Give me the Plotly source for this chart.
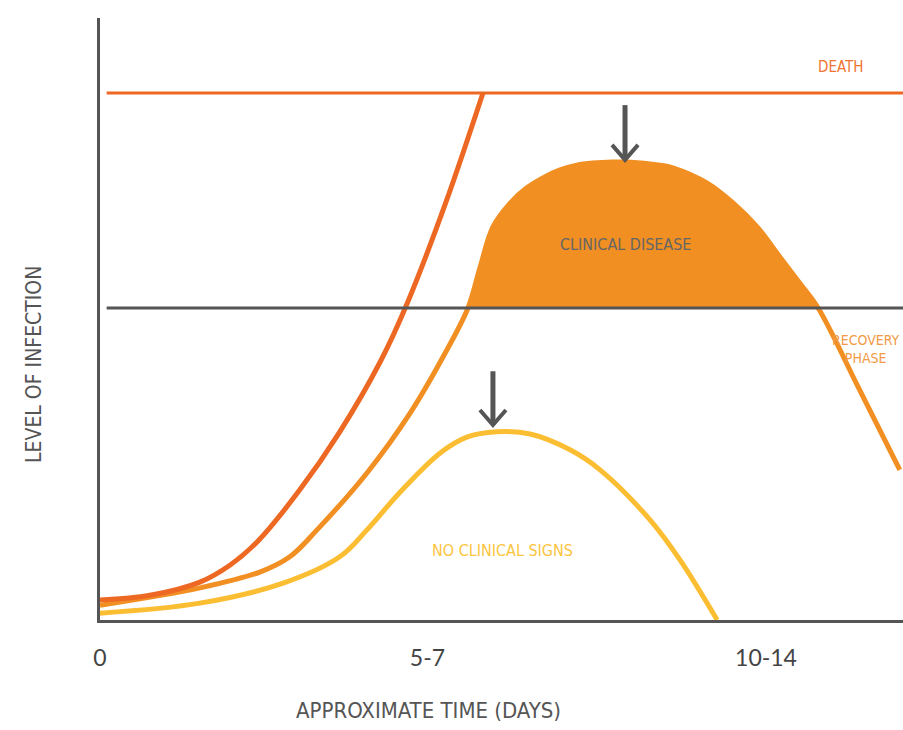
import numpy as np
import plotly.graph_objects as go

# ---------------- data (x = time units, y = level of infection 0-100) ----------------
tick_vals = [0, 5.9, 12.0]
tick_text = ["0", "5-7", "10-14"]

death_level = 100.0
clinical_threshold = 59.2

death_time = [0, 0.90, 1.80, 2.34, 2.83, 3.60, 4.32, 5.05, 5.50, 6.22, 6.90]
death_curve = [3.8, 4.7, 7.2, 10.4, 14.8, 24.7, 35.7, 49.0, 59.2, 78.9, 100.0]

clinical_time = [0, 1.80, 2.88, 3.42, 3.91, 4.81, 5.59, 6.18, 6.63, 6.85, 7.08, 7.39, 7.69,
                 7.98, 8.29, 8.59, 8.88, 9.24, 9.50, 10.09, 10.32, 10.94, 11.41, 11.84,
                 12.25, 12.61, 12.94, 13.68, 14.41]
clinical_curve = [2.8, 6.1, 9.1, 12.0, 17.1, 27.9, 39.3, 49.9, 59.2, 67.0, 74.6, 79.1, 82.0,
                  83.9, 85.4, 86.3, 86.7, 86.9, 86.9, 86.3, 85.8, 82.9, 79.1, 74.6,
                  68.9, 63.9, 59.2, 43.8, 28.5]

subclinical_time = [0, 1.80, 3.30, 4.32, 4.81, 5.41, 6.13, 6.61, 7.15, 7.75, 8.47, 9.01, 9.91, 10.45, 11.12]
subclinical_curve = [1.3, 3.2, 7.0, 12.0, 17.1, 24.3, 31.7, 34.7, 35.7, 35.3, 32.3, 28.5, 19.0, 11.4, 0.0]

arrow_x = [9.46, 7.08]
arrow_top = [97.7, 47.2]
arrow_tip = [87.3, 37.0]

# ---------------- styling ----------------
C_DEATH = "#EC6823"
C_CLIN = "#F18F23"
C_SUB = "#FBBE33"
C_GRAY = "#555555"
NARROW = "DejaVu Sans Condensed, Liberation Sans Narrow, Arial Narrow, sans-serif"

W, H = 903, 730
ML, MR, MT, MB = 100, 0, 18, 110
PX_X = 55.5   # px per time unit
PX_Y = 5.27   # px per level unit
x_max = (W - ML - MR) / PX_X
y_max = (H - MT - MB) / PX_Y


def dx(px):
    return (px - ML) / PX_X


def dy(py):
    return (H - MB - py) / PX_Y


def px_paper_x(px):
    return (px - ML) / (W - ML - MR)


def px_paper_y(py):
    return (H - MB - py) / (H - MT - MB)


fig = go.Figure()

# clinical disease filled area (part of clinical curve at/above threshold)
ct = np.array(clinical_time)
cc = np.array(clinical_curve)
above = np.where(cc >= clinical_threshold)[0]
i0, i1 = above[0], above[-1]
fill_x = list(ct[i0:i1 + 1])
fill_y = list(cc[i0:i1 + 1])
fig.add_trace(go.Scatter(x=fill_x, y=fill_y, mode="lines", fill="toself",
                         fillcolor=C_CLIN, line=dict(color=C_CLIN, width=1, shape="spline", smoothing=1.0),
                         hoverinfo="skip", showlegend=False))

# curves
fig.add_trace(go.Scatter(x=clinical_time, y=clinical_curve, mode="lines",
                         line=dict(color=C_CLIN, width=5, shape="spline", smoothing=1.0),
                         showlegend=False))
fig.add_trace(go.Scatter(x=subclinical_time, y=subclinical_curve, mode="lines",
                         line=dict(color=C_SUB, width=5, shape="spline", smoothing=1.0),
                         showlegend=False))
fig.add_trace(go.Scatter(x=death_time, y=death_curve, mode="lines",
                         line=dict(color=C_DEATH, width=5, shape="spline", smoothing=1.0),
                         showlegend=False))

# horizontal reference lines
fig.add_trace(go.Scatter(x=[0.12, x_max], y=[clinical_threshold, clinical_threshold], mode="lines",
                         line=dict(color=C_GRAY, width=3), showlegend=False))
fig.add_trace(go.Scatter(x=[0.12, x_max], y=[death_level, death_level], mode="lines",
                         line=dict(color=C_DEATH, width=3), showlegend=False))

# arrows
hw = 13 / PX_X
hh = 15 / PX_Y
for ax_, top, tip in zip(arrow_x, arrow_top, arrow_tip):
    fig.add_trace(go.Scatter(x=[ax_, ax_], y=[top, tip + 0.4], mode="lines",
                             line=dict(color=C_GRAY, width=5), showlegend=False))
    fig.add_trace(go.Scatter(x=[ax_ - hw, ax_, ax_ + hw], y=[tip + hh, tip, tip + hh], mode="lines",
                             line=dict(color=C_GRAY, width=4), showlegend=False))

annotations = [
    dict(text="DEATH", x=dx(840), y=dy(67), font=dict(family=NARROW, size=15, color="#EE7433")),
    dict(text="CLINICAL DISEASE", x=dx(625), y=dy(244), font=dict(family=NARROW, size=16, color="#666666")),
    dict(text="RECOVERY<br>PHASE", x=dx(866), y=dy(349), font=dict(family=NARROW, size=14, color="#F29A45")),
    dict(text="NO CLINICAL SIGNS", x=dx(502), y=dy(550), font=dict(family=NARROW, size=16, color="#FCC53D")),
]
for a in annotations:
    a.update(xref="x", yref="y", showarrow=False, xanchor="center", yanchor="middle")

# axis titles (placed as paper annotations to match the reference positions)
annotations.append(dict(text="APPROXIMATE TIME (DAYS)", xref="paper", yref="paper",
                        x=px_paper_x(428), y=px_paper_y(710), showarrow=False,
                        xanchor="center", yanchor="middle",
                        font=dict(family=NARROW, size=22, color=C_GRAY)))
annotations.append(dict(text="LEVEL OF INFECTION", xref="paper", yref="paper",
                        x=px_paper_x(34), y=px_paper_y(365), showarrow=False, textangle=-90,
                        xanchor="center", yanchor="middle",
                        font=dict(family=NARROW, size=21, color=C_GRAY)))

fig.update_layout(
    width=W, height=H,
    margin=dict(l=ML, r=MR, t=MT, b=MB),
    paper_bgcolor="white", plot_bgcolor="white",
    showlegend=False,
    annotations=annotations,
    xaxis=dict(range=[0, x_max], showgrid=False, zeroline=False, showline=True,
               linecolor=C_GRAY, linewidth=3, tickvals=tick_vals, ticktext=tick_text,
               ticks="", ticklabelstandoff=15,
               tickfont=dict(family="Lato, sans-serif", size=23, color="#444444")),
    yaxis=dict(range=[0, y_max], showgrid=False, zeroline=False, showline=True,
               linecolor=C_GRAY, linewidth=3, showticklabels=False, ticks=""),
)

fig.write_html("out.html", config={"displayModeBar": False},
               post_script="document.body.style.margin='0';document.body.style.overflow='hidden';")
